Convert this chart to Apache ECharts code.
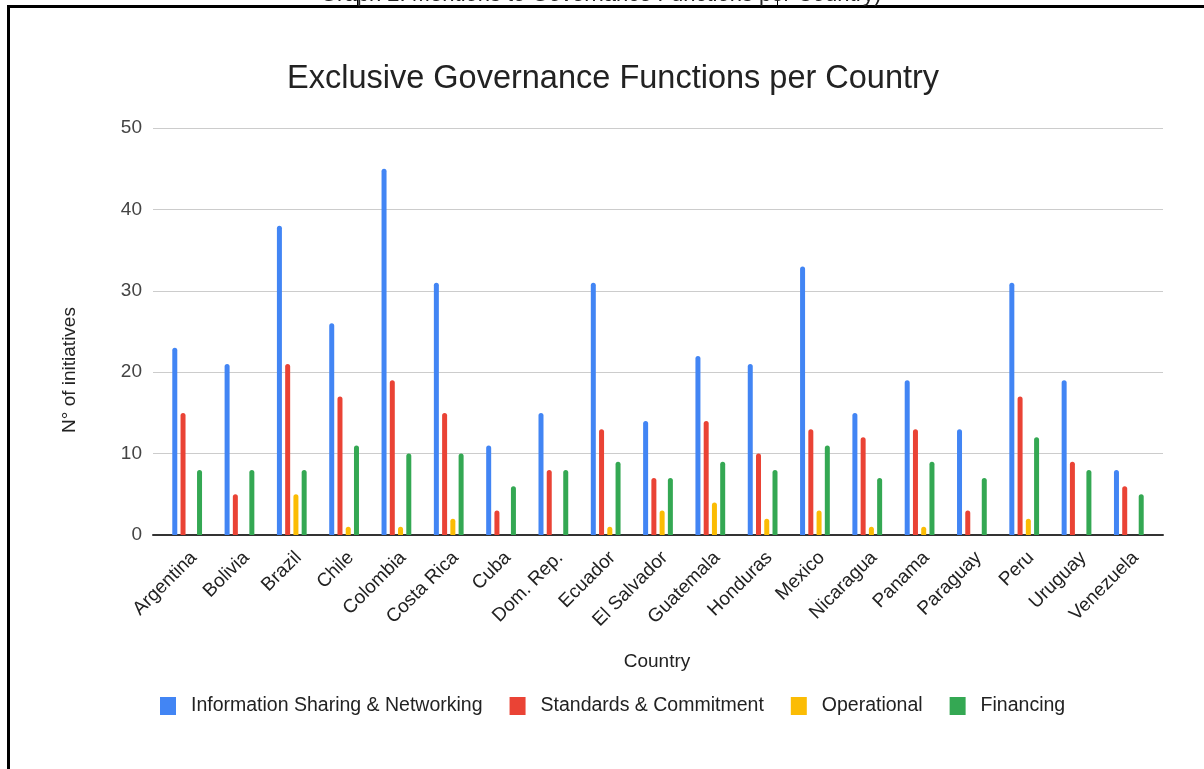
<!DOCTYPE html>
<html>
<head>
<meta charset="utf-8">
<title>Exclusive Governance Functions per Country</title>
<script src="https://cdn.jsdelivr.net/npm/echarts@6/dist/echarts.min.js"></script>
<style>
  html, body { margin: 0; padding: 0; background: #fff; }
  #chart { width: 1204px; height: 769px; }
</style>
</head>
<body>
<div id="chart"></div>
<script>
// Countries on the category axis
const countries = ['Argentina', 'Bolivia', 'Brazil', 'Chile', 'Colombia', 'Costa Rica', 'Cuba',
  'Dom. Rep.', 'Ecuador', 'El Salvador', 'Guatemala', 'Honduras', 'Mexico', 'Nicaragua',
  'Panama', 'Paraguay', 'Peru', 'Uruguay', 'Venezuela'];

// Number of initiatives per governance function
const infoSharing = [23, 21, 38, 26, 45, 31, 11, 15, 31, 14, 22, 21, 33, 15, 19, 13, 31, 19, 8];
const standards   = [15, 5, 21, 17, 19, 15, 3, 8, 13, 7, 14, 10, 13, 12, 13, 3, 17, 9, 6];
const operational = [0, 0, 5, 1, 1, 2, 0, 0, 1, 3, 4, 2, 3, 1, 1, 0, 2, 0, 0];
const financing   = [8, 8, 8, 11, 10, 10, 6, 8, 9, 7, 9, 8, 11, 7, 9, 7, 12, 8, 5];

const seriesNames = ['Information Sharing & Networking', 'Standards & Commitment', 'Operational', 'Financing'];
const seriesColors = ['#4285F4', '#EA4335', '#FBBC04', '#34A853'];
const yTicks = { min: 0, max: 50, interval: 10 };

const FONT = '"Liberation Sans", Arial, sans-serif';

const chart = echarts.init(document.getElementById('chart'), null, { renderer: 'canvas' });

const dataSets = [infoSharing, standards, operational, financing];

const option = {
  backgroundColor: '#ffffff',
  animation: false,
  title: {
    text: 'Exclusive Governance Functions per Country',
    left: 282,
    top: 58,
    textStyle: { fontFamily: FONT, fontSize: 32.5, fontWeight: 'normal', color: '#222222' }
  },
  legend: {
    data: seriesNames,
    left: 155,
    top: 691,
    itemWidth: 16,
    itemHeight: 18,
    itemGap: 27,
    icon: 'rect',
    textStyle: { fontFamily: FONT, fontSize: 19.5, color: '#222222', padding: [0, 0, 0, 10] }
  },
  grid: [
    // frame grid: gridlines, tick labels and baseline
    { left: 153, right: 41, top: 128, bottom: 234 },
    // bar grid, inset slightly from the gridlines
    { left: 161, right: 49, top: 128, bottom: 234 }
  ],
  xAxis: [
    {
      gridIndex: 0, type: 'category', data: [''],
      axisLine: { show: true, lineStyle: { color: '#333333', width: 2 } },
      axisTick: { show: false }, axisLabel: { show: false }, splitLine: { show: false }
    },
    {
      gridIndex: 1, type: 'category', data: countries,
      axisLine: { show: false }, axisTick: { show: false },
      axisLabel: {
        rotate: 45, interval: 0, margin: 13, verticalAlign: 'top',
        fontFamily: FONT, fontSize: 19, color: '#222222'
      }
    }
  ],
  yAxis: [
    {
      gridIndex: 0, type: 'value', min: yTicks.min, max: yTicks.max, interval: yTicks.interval,
      axisLine: { show: false }, axisTick: { show: false },
      axisLabel: { margin: 11, fontFamily: FONT, fontSize: 19, color: '#444444' },
      splitLine: { show: true, lineStyle: { color: '#cccccc', width: 1 } }
    },
    {
      gridIndex: 1, type: 'value', min: yTicks.min, max: yTicks.max, interval: yTicks.interval,
      show: false, splitLine: { show: false }
    }
  ],
  series: seriesNames.map((name, i) => ({
    name: name,
    type: 'bar',
    xAxisIndex: 1,
    yAxisIndex: 1,
    data: dataSets[i],
    barWidth: 5,
    barGap: '65%',
    itemStyle: { color: seriesColors[i], borderRadius: [2.5, 2.5, 0, 0] }
  })),
  graphic: [
    // page frame
    { type: 'rect', shape: { x: 7, y: 5, width: 1197, height: 3 }, style: { fill: '#000000' } },
    { type: 'rect', shape: { x: 7, y: 5, width: 3, height: 764 }, style: { fill: '#000000' } },
    { type: 'rect', shape: { x: 357, y: 0, width: 1, height: 6 }, style: { fill: '#000000' } },
    { type: 'rect', shape: { x: 777, y: 0, width: 1, height: 6 }, style: { fill: '#000000' } },
    // caption above the frame (clipped by the page edge)
    {
      type: 'text', left: 320, top: -16,
      style: { text: 'Graph 2: Mentions to Governance Functions per Country)', fontFamily: FONT, fontSize: 22, fill: '#222222' }
    },
    // axis titles
    {
      type: 'text', x: 70, y: 370, rotation: Math.PI / 2,
      style: { text: 'N° of initiatives', fontFamily: FONT, fontSize: 19, fill: '#222222', textAlign: 'center', textVerticalAlign: 'middle' }
    },
    {
      type: 'text', x: 657, y: 662,
      style: { text: 'Country', fontFamily: FONT, fontSize: 19, fill: '#222222', textAlign: 'center', textVerticalAlign: 'middle' }
    }
  ]
};

chart.setOption(option);
</script>
</body>
</html>
